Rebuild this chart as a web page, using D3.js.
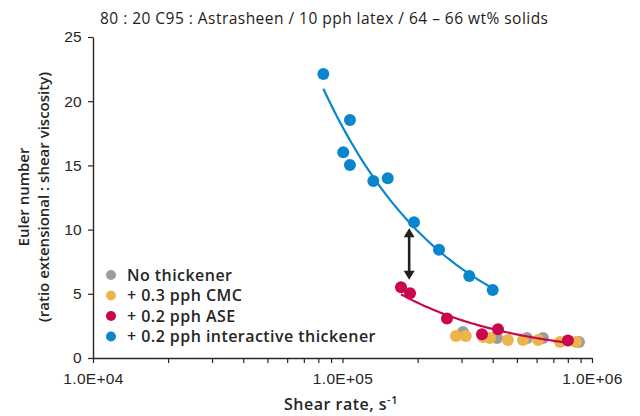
<!DOCTYPE html>
<html>
<head>
<meta charset="utf-8">
<script src="https://cdn.jsdelivr.net/npm/d3@7"></script>
<style>
  html, body { margin: 0; padding: 0; background: #fff; }
  svg { display: block; font-family: "Open Sans", "Noto Sans", sans-serif; }
</style>
</head>
<body>
<svg id="chart" width="640" height="416"></svg>
<script>
// ---- data ----
const titleText = "80 : 20 C95 : Astrasheen / 10 pph latex / 64 \u2013 66 wt% solids";
const xTickValues = [1e4, 1e5, 1e6];
const xTickLabels = ["1.0E+04", "1.0E+05", "1.0E+06"];
const yTickValues = [0, 5, 10, 15, 20, 25];
const seriesNames = ["No thickener", "+ 0.3 pph CMC", "+ 0.2 pph ASE", "+ 0.2 pph interactive thickener"];

// shear rate (s^-1) and Euler number per series
const noThickX = [304000, 416000, 549000, 636000, 887000];
const noThickY = [2.02, 1.56, 1.56, 1.56, 1.25];
const cmcX = [285000, 312000, 366000, 390000, 460000, 529000, 608000, 744000, 863000];
const cmcY = [1.71, 1.71, 1.64, 1.56, 1.40, 1.40, 1.40, 1.25, 1.25];
const aseX = [171600, 186500, 262300, 362300, 419900, 801000];
const aseY = [5.51, 5.04, 3.08, 1.85, 2.24, 1.36];
const itX = [83800, 100700, 107100, 107100, 132900, 151800, 193500, 243700, 322200, 400000];
const itY = [22.12, 16.02, 18.54, 15.03, 13.79, 14.00, 10.57, 8.43, 6.39, 5.30];

// annotation arrow (data units): shear rate, from / to Euler number
const arrowX = [185000];
const arrowY = [10.1, 6.1];

// ---- styles ----
const colors = ["#9d9d9d", "#ecb54a", "#c8074f", "#0a86cc"];
const inkColor = "#262626";

const svg = d3.select("#chart");
const x = d3.scaleLog().domain([1e4, 1e6]).range([93, 592]);
const y = d3.scaleLinear().domain([0, 25]).range([358, 37]);

const zip = (xs, ys) => xs.map((v, i) => ({x: v, y: ys[i]}));
const series = [zip(noThickX, noThickY), zip(cmcX, cmcY), zip(aseX, aseY), zip(itX, itY)];

// power-law trendline (least squares in log-log), drawn over data range
function powerFit(pts) {
  const lx = pts.map(p => Math.log(p.x)), ly = pts.map(p => Math.log(p.y));
  const mx = d3.mean(lx), my = d3.mean(ly);
  let sxy = 0, sxx = 0;
  lx.forEach((v, i) => { sxy += (v - mx) * (ly[i] - my); sxx += (v - mx) * (v - mx); });
  const b = sxy / sxx, a = my - b * mx;
  const [x0, x1] = d3.extent(pts, p => p.x);
  const n = 60;
  return d3.range(n + 1).map(i => {
    const xv = Math.exp(Math.log(x0) + (Math.log(x1) - Math.log(x0)) * i / n);
    return {x: xv, y: Math.exp(a + b * Math.log(xv))};
  });
}

// ---- axes ----
const minor = [];
[1e4, 1e5].forEach(d => { for (let k = 1; k <= 9; k++) minor.push(d * k); });
minor.push(1e6);

const xAxis = d3.axisBottom(x).tickValues(minor).tickSize(5).tickSizeOuter(0).tickPadding(10)
  .tickFormat(d => {
    const i = xTickValues.findIndex(v => Math.abs(v - d) / v < 1e-9);
    return i >= 0 ? xTickLabels[i] : "";
  });
const gx = svg.append("g").attr("transform", `translate(0,${y(0)})`).call(xAxis);
gx.selectAll("text").attr("font-size", 15.5).attr("font-weight", 500).attr("fill", inkColor)
  .attr("letter-spacing", 0.3);

const yAxis = d3.axisLeft(y).tickValues(yTickValues).tickSize(5).tickSizeOuter(0).tickPadding(6);
const gy = svg.append("g").attr("transform", `translate(${x(1e4)},0)`).call(yAxis);
gy.selectAll("text").attr("font-size", 15.5).attr("font-weight", 500).attr("fill", inkColor)
  .attr("letter-spacing", 0.3);

[gx, gy].forEach(g => {
  g.select(".domain").attr("stroke", inkColor).attr("stroke-width", 1.4);
  g.selectAll(".tick line").attr("stroke", inkColor).attr("stroke-width", 1.2);
});

// ---- titles ----
svg.append("text").attr("x", 100).attr("y", 24)
  .attr("textLength", 448).attr("lengthAdjust", "spacing")
  .attr("font-size", 15.5).attr("font-weight", 500).attr("fill", "#1c1c1c").text(titleText);

const xt = svg.append("text").attr("x", 341).attr("y", 410).attr("text-anchor", "middle")
  .attr("font-size", 16).attr("font-weight", 600).attr("letter-spacing", 0.5).attr("fill", inkColor);
xt.append("tspan").text("Shear rate, s");
xt.append("tspan").attr("dy", -6).attr("font-size", 11).text("-1");

const yTitle = ["Euler number", "(ratio extensional : shear viscosity)"];
yTitle.forEach((t, i) => {
  svg.append("text").attr("transform", `translate(${24 + i * 20},197) rotate(-90)`)
    .attr("text-anchor", "middle").attr("dy", "0.35em")
    .attr("font-size", 15).attr("font-weight", 600).attr("fill", inkColor).text(t);
});

// ---- marks ----
const line = d3.line().x(d => x(d.x)).y(d => y(d.y)).curve(d3.curveMonotoneX);

function drawPoints(i) {
  svg.append("g").selectAll("circle").data(series[i]).join("circle")
    .attr("cx", d => x(d.x)).attr("cy", d => y(d.y)).attr("r", 6).attr("fill", colors[i]);
}
drawPoints(0);
drawPoints(1);
drawPoints(2);
svg.append("path").datum(powerFit(series[2])).attr("d", line)
  .attr("fill", "none").attr("stroke", colors[2]).attr("stroke-width", 2.2);
drawPoints(3);
svg.append("path").datum(powerFit(series[3])).attr("d", line)
  .attr("fill", "none").attr("stroke", colors[3]).attr("stroke-width", 2.2);

// ---- arrow ----
const ax = x(arrowX[0]), ay0 = y(arrowY[0]), ay1 = y(arrowY[1]);
svg.append("line").attr("x1", ax).attr("x2", ax).attr("y1", ay0 + 6).attr("y2", ay1 - 6)
  .attr("stroke", "#231f20").attr("stroke-width", 2.6);
svg.append("path").attr("d", `M${ax},${ay0} L${ax - 5.5},${ay0 + 9} L${ax + 5.5},${ay0 + 9} Z`).attr("fill", "#231f20");
svg.append("path").attr("d", `M${ax},${ay1} L${ax - 5.5},${ay1 - 9} L${ax + 5.5},${ay1 - 9} Z`).attr("fill", "#231f20");

// ---- legend ----
const lg = svg.append("g");
seriesNames.forEach((name, i) => {
  const ly = 275 + i * 20.5;
  lg.append("circle").attr("cx", 111).attr("cy", ly).attr("r", 5).attr("fill", colors[i]);
  lg.append("text").attr("x", 127).attr("y", ly).attr("dy", "0.36em")
    .attr("font-size", 16).attr("font-weight", 600).attr("letter-spacing", 0.45)
    .attr("fill", inkColor).text(name);
});
</script>
</body>
</html>
